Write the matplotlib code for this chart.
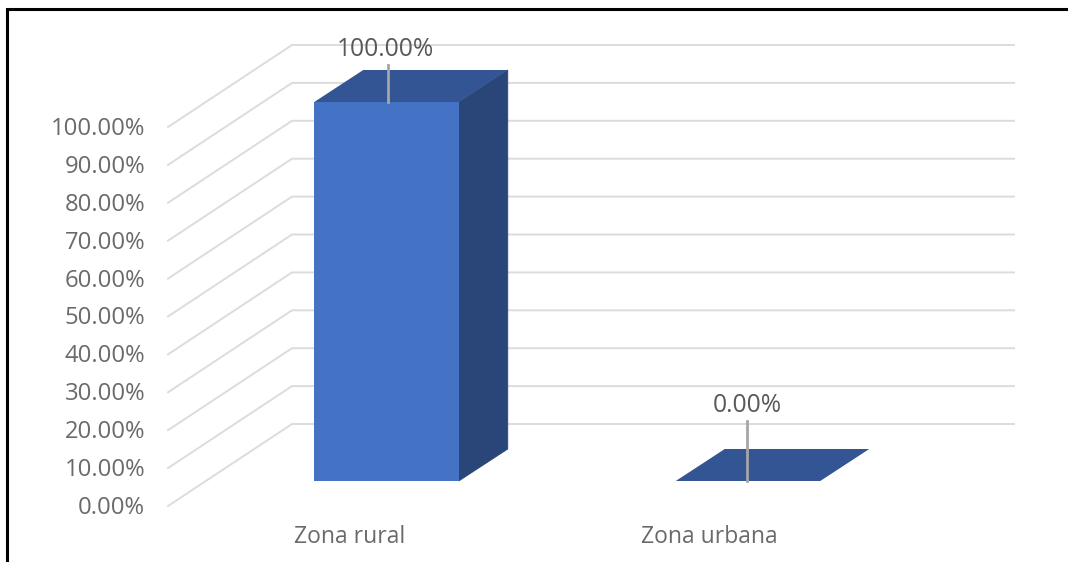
import matplotlib
matplotlib.use("Agg")
import matplotlib.pyplot as plt
from matplotlib.patches import Polygon, Rectangle

categories = ["Zona rural", "Zona urbana"]
values = [100.0, 0.0]
ticks = [0, 10, 20, 30, 40, 50, 60, 70, 80, 90, 100]

W, H = 1068, 562
plt.rcParams["font.family"] = ["Open Sans", "DejaVu Sans"]
fig = plt.figure(figsize=(W / 100, H / 100), dpi=100)
ax = fig.add_axes([0, 0, 1, 1])

# scales: category spacing and value spacing in pixels
SX, SY = 361.5, 3.79
X0, Y0 = 386.5, 481.0
ax.set_xlim(-X0 / SX, (W - X0) / SX)
ax.set_ylim((Y0 - H) / SY, Y0 / SY)
ax.axis("off")

px, py = 1 / SX, 1 / SY
bw = 144.5 * px
ddx, ddy = 49 * px, 32 * py          # bar depth
# wall / floor geometry relative to the bar plane
wall_dx, wall_dy = 86 * px, 57 * py
front_dx, front_dy = -38 * px, -25 * py
left = -180.5 * px
right = 627.5 * px

GRID = "#dcdcdc"
for t in ticks:
    xf = left + front_dx
    yf = t + front_dy
    xb = left + wall_dx
    yb = t + wall_dy
    ax.plot([xf, xb, right], [yf, yb, yb], color=GRID, lw=1.4, solid_joinstyle="miter", zorder=1)
    ax.text(xf - 23 * px, yf - 2 * py, f"{t:.2f}%", ha="right", va="center",
            fontsize=17.1, color="#6a6a6a", zorder=5)

FRONT, TOP, SIDE = "#4472c4", "#335593", "#2a4679"
for i, (c, v) in enumerate(zip(categories, values)):
    x0 = i - bw / 2
    x1 = i + bw / 2
    if v > 0:
        ax.add_patch(Polygon([(x1, 0), (x1 + ddx, ddy), (x1 + ddx, v + ddy), (x1, v)],
                             fc=SIDE, ec=SIDE, lw=0.6, zorder=3))
        ax.add_patch(Rectangle((x0, 0), bw, v, fc=FRONT, ec="none", zorder=3.1))
    ax.add_patch(Polygon([(x0, v), (x1, v), (x1 + ddx, v + ddy), (x0 + ddx, v + ddy)],
                         fc=TOP, ec="none", zorder=3))
    lx = i + (2 if i == 0 else -1) * px
    ax.plot([lx, lx], [v, v + (37 if i == 0 else 60) * py], color="#a6a6a6", lw=2, zorder=4)
    ax.text(i - 1 * px, v + (52 if i == 0 else 75) * py, f"{v:.2f}%", ha="center", va="center",
            fontsize=17.7, color="#595959", zorder=5)
    ax.text(i - 36.5 * px - (2 * px if i else 0), -56 * py, c, ha="center", va="center",
            fontsize=16.5, color="#6a6a6a", zorder=5)

# black frame of the picture, open on the right and along the bottom
fx0, fx1 = -379.5 * px, (W - X0) * px
fy_top = 472 * py
fy_bot = -81 * py
ax.plot([fx0, fx0, fx1], [fy_bot, fy_top, fy_top], color="black", lw=2.2,
        solid_joinstyle="miter", zorder=6)

fig.savefig("out.png", dpi=100, facecolor="white")
